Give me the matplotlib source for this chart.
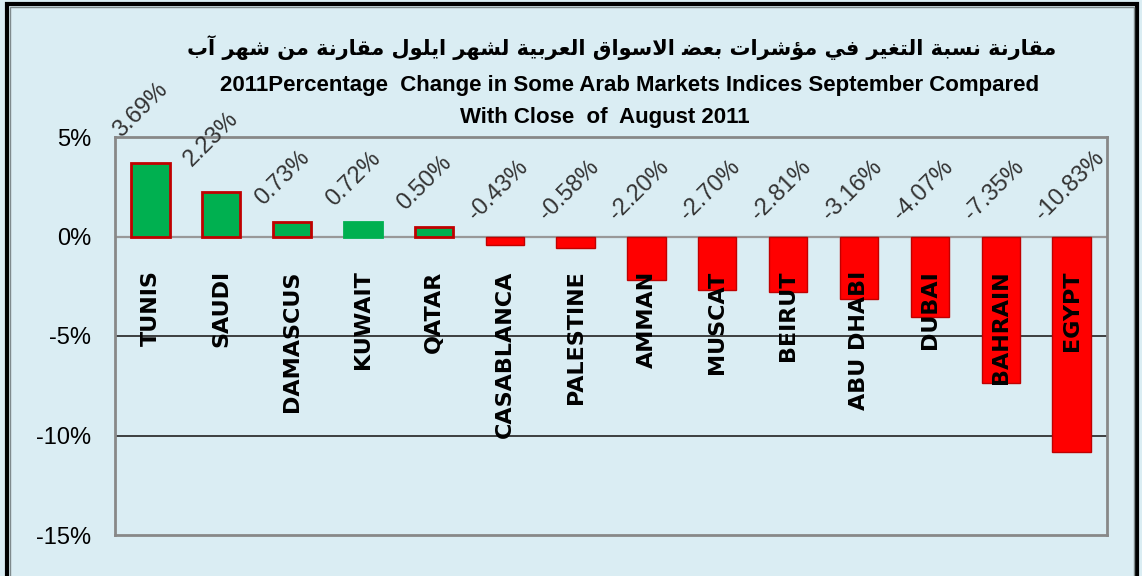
import matplotlib.pyplot as plt
from matplotlib.patches import Rectangle

# data
markets = ['TUNIS', 'SAUDI', 'DAMASCUS', 'KUWAIT', 'QATAR', 'CASABLANCA', 'PALESTINE',
           'AMMAN', 'MUSCAT', 'BEIRUT', 'ABU DHABI', 'DUBAI', 'BAHRAIN', 'EGYPT']
change_pct = [3.69, 2.23, 0.73, 0.72, 0.50, -0.43, -0.58,
              -2.20, -2.70, -2.81, -3.16, -4.07, -7.35, -10.83]
y_ticks = [5, 0, -5, -10, -15]

title_ar = 'مقارنة نسبة التغير في مؤشرات بعض الاسواق العربية لشهر ايلول مقارنة من شهر آب'
title_en_1 = '2011Percentage  Change in Some Arab Markets Indices September Compared'
title_en_2 = 'With Close  of  August 2011'

BG = '#DAEDF3'
GREEN = '#00B050'
RED = '#FF0000'
DARK_RED = '#C00000'
NARROW = ['Liberation Sans', 'DejaVu Sans']

# arabic presentation forms: isolated, final, initial, medial
FORMS = {
    'ا': (0xFE8D, 0xFE8E, None, None), 'آ': (0xFE81, 0xFE82, None, None),
    'ؤ': (0xFE85, 0xFE86, None, None), 'ب': (0xFE8F, 0xFE90, 0xFE91, 0xFE92),
    'ة': (0xFE93, 0xFE94, None, None), 'ت': (0xFE95, 0xFE96, 0xFE97, 0xFE98),
    'ر': (0xFEAD, 0xFEAE, None, None), 'س': (0xFEB1, 0xFEB2, 0xFEB3, 0xFEB4),
    'ش': (0xFEB5, 0xFEB6, 0xFEB7, 0xFEB8), 'ض': (0xFEBF, 0xFEC0, 0xFEC1, 0xFEC2),
    'ع': (0xFEC9, 0xFECA, 0xFECB, 0xFECC), 'غ': (0xFECD, 0xFECE, 0xFECF, 0xFED0),
    'ف': (0xFED1, 0xFED2, 0xFED3, 0xFED4), 'ق': (0xFED5, 0xFED6, 0xFED7, 0xFED8),
    'ل': (0xFEDD, 0xFEDE, 0xFEDF, 0xFEE0), 'م': (0xFEE1, 0xFEE2, 0xFEE3, 0xFEE4),
    'ن': (0xFEE5, 0xFEE6, 0xFEE7, 0xFEE8), 'ه': (0xFEE9, 0xFEEA, 0xFEEB, 0xFEEC),
    'و': (0xFEED, 0xFEEE, None, None), 'ي': (0xFEF1, 0xFEF2, 0xFEF3, 0xFEF4),
}
LAM_ALEF = {'ا': (0xFEFB, 0xFEFC), 'آ': (0xFEF5, 0xFEF6)}


def shape_arabic(text):
    """join arabic letters into presentation forms and reverse for LTR drawing"""
    out = []
    i = 0
    prev_joins = False
    while i < len(text):
        ch = text[i]
        if ch not in FORMS:
            out.append(ch)
            prev_joins = False
            i += 1
            continue
        nxt = text[i + 1] if i + 1 < len(text) else ''
        if ch == 'ل' and nxt in LAM_ALEF:
            iso, fin = LAM_ALEF[nxt]
            out.append(chr(fin if prev_joins else iso))
            prev_joins = False
            i += 2
            continue
        iso, fin, ini, med = FORMS[ch]
        joins_next = ini is not None and nxt in FORMS
        if prev_joins and joins_next:
            code = med
        elif prev_joins:
            code = fin
        elif joins_next:
            code = ini
        else:
            code = iso
        out.append(chr(code))
        prev_joins = joins_next
        i += 1
    return ''.join(reversed(out))


fig = plt.figure(figsize=(11.42, 5.76), dpi=100, facecolor=BG)
ax = fig.add_axes([115 / 1142, 1 - 535 / 576, 992 / 1142, 398 / 576])
ax.set_facecolor(BG)

x = list(range(len(markets)))
face = [GREEN if v > 0 else RED for v in change_pct]
edge = [DARK_RED] * len(change_pct)
edge[markets.index('KUWAIT')] = GREEN
lw = [2.0 if v > 0 else 1.0 for v in change_pct]
ax.bar(x, change_pct, width=0.54, color=face, edgecolor=edge, linewidth=lw, zorder=3)

ax.set_xlim(-0.5, len(markets) - 0.5)
ax.set_ylim(-15, 5)
ax.set_yticks(y_ticks)
ax.set_yticklabels([f'{t}%' for t in y_ticks], family=NARROW, fontsize=17)
ax.tick_params(axis='y', length=0, pad=17)
ax.set_xticks([])

for s in ax.spines.values():
    s.set_color('#888888')
    s.set_linewidth(2)
for g in [-5, -10]:
    ax.axhline(g, color='#222222', lw=1.2, zorder=1)
ax.axhline(0, color='#999999', lw=1.6, zorder=2)

for i, v in enumerate(change_pct):
    lift = 1.1 if v > 1 else 0.6
    ax.text(i - 0.36, max(v, 0) + lift, f'{v:.2f}%', rotation=45, rotation_mode='anchor',
            ha='left', va='bottom', fontsize=17, color='#333333',
            family=NARROW, zorder=5, clip_on=False)
    ax.text(i, -1.7, markets[i], rotation=90, ha='center', va='top', fontsize=16,
            fontweight='bold', color='black', zorder=6)

fig.text(622 / 1142, 1 - 48 / 576, shape_arabic(title_ar), ha='center', va='center',
         fontsize=15, fontweight='bold', family=['DejaVu Sans'])
fig.text(630 / 1142, 1 - 86 / 576, title_en_1, ha='center', va='center', fontsize=16,
         fontweight='bold', family=NARROW)
fig.text(605 / 1142, 1 - 117 / 576, title_en_2, ha='center', va='center', fontsize=16,
         fontweight='bold', family=NARROW)

# outer frame of the chart object
fig.patches.append(Rectangle((7 / 1142, -0.05), 1130 / 1142, 1.05 - 4 / 576, transform=fig.transFigure,
                             fill=False, edgecolor='black', linewidth=3))
fig.patches.append(Rectangle((10 / 1142, -0.05), 1124 / 1142, 1.05 - 7 / 576, transform=fig.transFigure,
                             fill=False, edgecolor='#7F8A8C', linewidth=1))

fig.savefig('out.png', dpi=100, facecolor=BG)
